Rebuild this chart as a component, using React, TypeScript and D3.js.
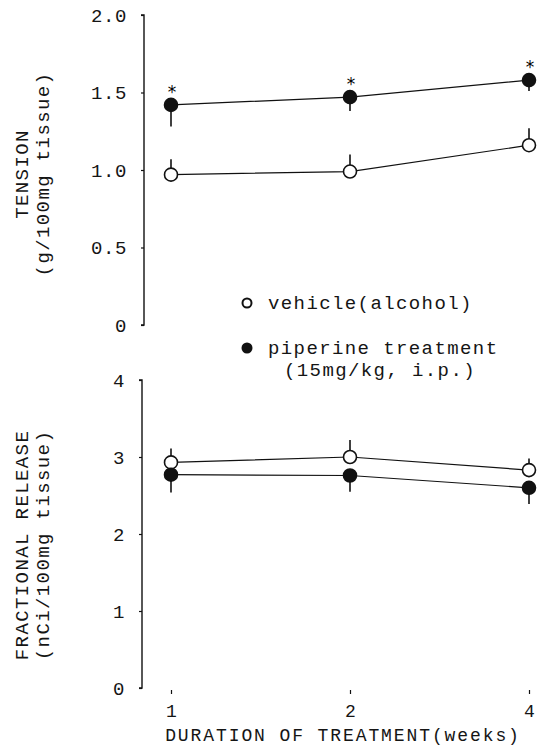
import React, { useEffect, useRef } from 'react';
import * as d3 from 'd3';

// weeks of treatment (categorical positions on the x axis)
const weeks = ['1', '2', '4'];

// upper panel: tension (g/100mg tissue)
const tensionVehicle = [0.97, 0.99, 1.16];
const tensionVehicleErr = [0.10, 0.11, 0.11];
const tensionPiperine = [1.42, 1.47, 1.58];
const tensionPiperineErr = [0.14, 0.09, 0.07];
const tensionTicks = [0, 0.5, 1.0, 1.5, 2.0];
const tensionTickLabels = ['0', '0.5', '1.0', '1.5', '2.0'];

// lower panel: fractional release (nCi/100mg tissue)
const releaseVehicle = [2.93, 3.0, 2.83];
const releaseVehicleErr = [0.18, 0.22, 0.15];
const releasePiperine = [2.77, 2.76, 2.6];
const releasePiperineErr = [0.23, 0.21, 0.21];
const releaseTicks = [0, 1, 2, 3, 4];

const legendLabels = ['vehicle(alcohol)', 'piperine treatment', '(15mg/kg, i.p.)'];

const FONT = '"Liberation Mono", "DejaVu Sans Mono", monospace';

const App = () => {
    const svgRef = useRef<SVGSVGElement>(null);

    useEffect(() => {
        const svg = d3.select(svgRef.current);
        svg.selectAll('*').remove();

        const x = d3.scalePoint().domain(weeks).range([171, 529]);
        const yTop = d3.scaleLinear().domain([0, 2]).range([325, 15]);
        const yBot = d3.scaleLinear().domain([0, 4]).range([688, 380]);

        const text = (g, s, size = 19, spacing = 1.4) =>
            g.append('text')
                .text(s)
                .style('font-family', FONT)
                .style('font-size', size + 'px')
                .style('letter-spacing', spacing + 'px')
                .attr('fill', '#151515');

        // y axes
        const drawYAxis = (scale, xPos, ticks, labels) => {
            const axis = d3.axisLeft(scale)
                .tickValues(ticks)
                .tickSize(3)
                .tickPadding(14)
                .tickFormat((d, i) => labels[i]);
            const g = svg.append('g').attr('transform', `translate(${xPos},0)`).call(axis);
            g.select('.domain').attr('stroke', '#111').attr('stroke-width', 1.4).attr('d', `M-3,${scale.range()[1]}H0V${scale.range()[0]}H-3`);
            g.selectAll('.tick line').attr('stroke', '#111').attr('stroke-width', 1.2);
            g.selectAll('.tick text')
                .style('font-family', FONT)
                .style('font-size', '19px')
                .style('letter-spacing', '0.6px')
                .attr('fill', '#151515');
        };
        drawYAxis(yTop, 144, tensionTicks, tensionTickLabels);
        drawYAxis(yBot, 142, releaseTicks, releaseTicks.map(String));

        // x axis (lower panel only)
        const xAxis = d3.axisBottom(x).tickSize(4).tickPadding(10);
        const gx = svg.append('g').attr('transform', 'translate(0,690)').call(xAxis);
        gx.select('.domain').attr('stroke', '#111').attr('stroke-width', 1.8).attr('d', `M${x('1')},694V690H${x('4')}V694`);
        gx.selectAll('.tick line').attr('stroke', '#111').attr('stroke-width', 1.2);
        gx.selectAll('.tick text')
            .style('font-family', FONT)
            .style('font-size', '18px')
            .attr('fill', '#151515');

        text(svg, 'DURATION OF TREATMENT(weeks)', 18, 1.9)
            .attr('x', 343)
            .attr('y', 741)
            .attr('text-anchor', 'middle');

        // y axis titles (two lines, rotated)
        const yTitle = (cy, l1, l2) => {
            text(svg, l1)
                .attr('text-anchor', 'middle')
                .attr('transform', `translate(28,${cy}) rotate(-90)`);
            text(svg, l2)
                .attr('text-anchor', 'middle')
                .attr('transform', `translate(49,${cy}) rotate(-90)`);
        };
        yTitle(174, 'TENSION', '(g/100mg tissue)');
        yTitle(545, 'FRACTIONAL RELEASE', '(nCi/100mg tissue)');

        // series drawing
        const drawSeries = (yScale, vals, errs, filled, dir, stars = false) => {
            const g = svg.append('g');
            const line = d3.line<number>()
                .x((d, i) => x(weeks[i]))
                .y((d) => yScale(d));
            g.append('path')
                .datum(vals)
                .attr('d', line)
                .attr('fill', 'none')
                .attr('stroke', '#111')
                .attr('stroke-width', 1.2);
            g.selectAll('line.err')
                .data(vals)
                .enter()
                .append('line')
                .attr('x1', (d, i) => x(weeks[i]))
                .attr('x2', (d, i) => x(weeks[i]))
                .attr('y1', (d) => yScale(d))
                .attr('y2', (d, i) => yScale(d + dir * errs[i]))
                .attr('stroke', '#111')
                .attr('stroke-width', 1.6);
            g.selectAll('circle')
                .data(vals)
                .enter()
                .append('circle')
                .attr('cx', (d, i) => x(weeks[i]))
                .attr('cy', (d) => yScale(d))
                .attr('r', 6.5)
                .attr('fill', filled ? '#111' : '#fff')
                .attr('stroke', '#111')
                .attr('stroke-width', 1.6);
            if (stars) {
                g.selectAll('text.star')
                    .data(vals)
                    .enter()
                    .append('text')
                    .attr('x', (d, i) => x(weeks[i]) + 1)
                    .attr('y', (d) => yScale(d) - 7)
                    .attr('text-anchor', 'middle')
                    .style('font-family', '"DejaVu Sans", sans-serif')
                    .style('font-size', '17px')
                    .text('*');
            }
        };

        drawSeries(yTop, tensionVehicle, tensionVehicleErr, false, 1);
        drawSeries(yTop, tensionPiperine, tensionPiperineErr, true, -1, true);
        drawSeries(yBot, releaseVehicle, releaseVehicleErr, false, 1);
        drawSeries(yBot, releasePiperine, releasePiperineErr, true, -1);

        // legend
        svg.append('circle').attr('cx', 247).attr('cy', 303).attr('r', 4.5)
            .attr('fill', '#fff').attr('stroke', '#111').attr('stroke-width', 2);
        text(svg, legendLabels[0]).attr('x', 268).attr('y', 309);
        svg.append('circle').attr('cx', 247).attr('cy', 348).attr('r', 5.5).attr('fill', '#111');
        text(svg, legendLabels[1]).attr('x', 268).attr('y', 354);
        text(svg, legendLabels[2]).attr('x', 284).attr('y', 376);
    }, []);

    return (
        <svg
            ref={svgRef}
            width={544}
            height={753}
            style={{ position: 'absolute', left: 0, top: 0, background: '#fff' }}
        />
    );
};

export default App;
